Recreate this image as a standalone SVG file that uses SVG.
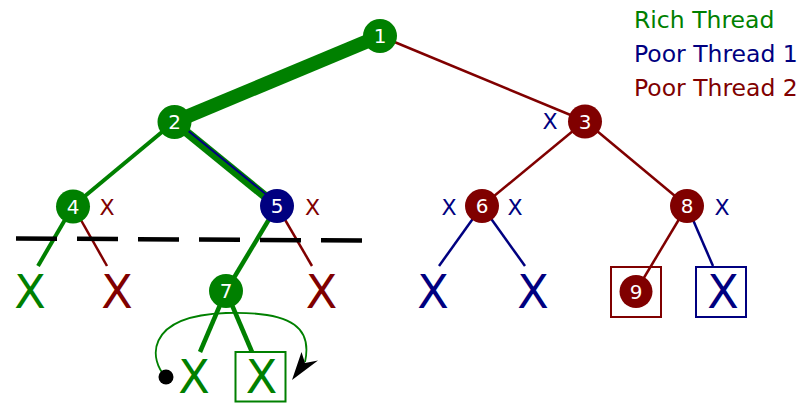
<svg xmlns="http://www.w3.org/2000/svg" width="802" height="404" viewBox="0 0 802 404">
<style>
.g{stroke:#008000;fill:none}
.b{stroke:#000080;fill:none}
.r{stroke:#800000;fill:none}
.ng{fill:#008000}
.nb{fill:#000080}
.nr{fill:#800000}
.lbl{font-family:"DejaVu Sans",sans-serif;font-size:20px;fill:#fff;text-anchor:middle}
.sx{font-family:"DejaVu Sans",sans-serif;font-size:22px;text-anchor:middle}
.bx{font-family:"DejaVu Sans",sans-serif;font-size:46px;text-anchor:middle}
.leg{font-family:"DejaVu Sans",sans-serif;font-size:23.5px}
.tg{fill:#008000}.tb{fill:#000080}.tr{fill:#800000}
</style>
<rect width="802" height="404" fill="#fff"/>
<g id="connectors">
<line x1="380" y1="36" x2="174" y2="122" class="g" stroke-width="14"/>
<line x1="380" y1="36" x2="585" y2="121" class="r" stroke-width="2.5"/>
<line x1="174" y1="122" x2="73" y2="206" class="g" stroke-width="4"/>
<line x1="174" y1="122" x2="277" y2="206" class="g" stroke-width="9"/>
<line x1="175.5" y1="120.5" x2="278.5" y2="204.5" class="b" stroke-width="2"/>
<line x1="585" y1="121" x2="482" y2="206" class="r" stroke-width="2.5"/>
<line x1="585" y1="121" x2="687" y2="206" class="r" stroke-width="2.5"/>
<line x1="73" y1="206" x2="38" y2="266" class="g" stroke-width="4"/>
<line x1="73" y1="206" x2="107" y2="266" class="r" stroke-width="2.5"/>
<line x1="277" y1="206" x2="226" y2="291" class="g" stroke-width="4.5"/>
<line x1="277" y1="206" x2="312" y2="266" class="r" stroke-width="2.5"/>
<line x1="226" y1="291" x2="200" y2="352" class="g" stroke-width="4.5"/>
<line x1="226" y1="291" x2="252" y2="352" class="g" stroke-width="4.5"/>
<line x1="482" y1="206" x2="439" y2="266" class="b" stroke-width="2.5"/>
<line x1="482" y1="206" x2="525" y2="266" class="b" stroke-width="2.5"/>
<line x1="687" y1="206" x2="636" y2="291" class="r" stroke-width="2.5"/>
<line x1="687" y1="206" x2="713" y2="266" class="b" stroke-width="2.5"/>
<line x1="16" y1="238.5" x2="364" y2="240.5" stroke="#000" stroke-width="4.5" stroke-dasharray="41 20"/>
<path d="M166,377 C150,362 142,316 226,313 C296,311 312,330 305,362" class="g" stroke-width="1.8"/>
<path d="M292,380 L301.5,352 L305,363 L318,360.5 Z" fill="#000"/>
<circle cx="166" cy="377" r="7.5" fill="#000"/>
</g>
<g id="node1"><circle cx="380" cy="36" r="17" class="ng"/><text x="380" y="43" class="lbl">1</text></g>
<g id="node2"><circle cx="174.5" cy="122" r="17" class="ng"/><text x="174.5" y="129" class="lbl">2</text></g>
<g id="node3"><circle cx="585" cy="121.5" r="17" class="nr"/><text x="585" y="128.5" class="lbl">3</text><text x="550" y="129" class="sx tb">X</text></g>
<g id="node4"><circle cx="73" cy="206.5" r="17" class="ng"/><text x="73" y="213.5" class="lbl">4</text><text x="107" y="215" class="sx tr">X</text></g>
<g id="node5"><circle cx="277" cy="206" r="17" class="nb"/><text x="277" y="213" class="lbl">5</text><text x="312.5" y="215" class="sx tr">X</text></g>
<g id="node6"><circle cx="482" cy="206" r="17" class="nr"/><text x="482" y="213" class="lbl">6</text><text x="449" y="215" class="sx tb">X</text><text x="515" y="215" class="sx tb">X</text></g>
<g id="node7"><circle cx="226" cy="291" r="17" class="ng"/><text x="226" y="298" class="lbl">7</text></g>
<g id="node8"><circle cx="687" cy="206" r="17" class="nr"/><text x="687" y="213" class="lbl">8</text><text x="722" y="215" class="sx tb">X</text></g>
<g id="node9"><rect x="611" y="267" width="50" height="50" class="r" stroke-width="2"/><circle cx="636" cy="291.5" r="16.5" class="nr"/><text x="636" y="298.5" class="lbl">9</text></g>
<g id="leaf-g1"><text x="30" y="308" class="bx tg">X</text></g>
<g id="leaf-r1"><text x="117" y="308" class="bx tr">X</text></g>
<g id="leaf-r2"><text x="321.5" y="308" class="bx tr">X</text></g>
<g id="leaf-b1"><text x="433" y="308" class="bx tb">X</text></g>
<g id="leaf-b2"><text x="533" y="308" class="bx tb">X</text></g>
<g id="leaf-b3"><rect x="696" y="267" width="50" height="50" class="b" stroke-width="2"/><text x="723" y="308" class="bx tb">X</text></g>
<g id="leaf-g2"><text x="194" y="393" class="bx tg">X</text></g>
<g id="leaf-g3"><rect x="235.5" y="352" width="50" height="49.5" class="g" stroke-width="2"/><text x="261.5" y="393" class="bx tg">X</text></g>
<g id="legend">
<text x="634" y="28" class="leg tg">Rich Thread</text>
<text x="634" y="62" class="leg tb">Poor Thread 1</text>
<text x="634" y="96" class="leg tr">Poor Thread 2</text>
</g>
</svg>
